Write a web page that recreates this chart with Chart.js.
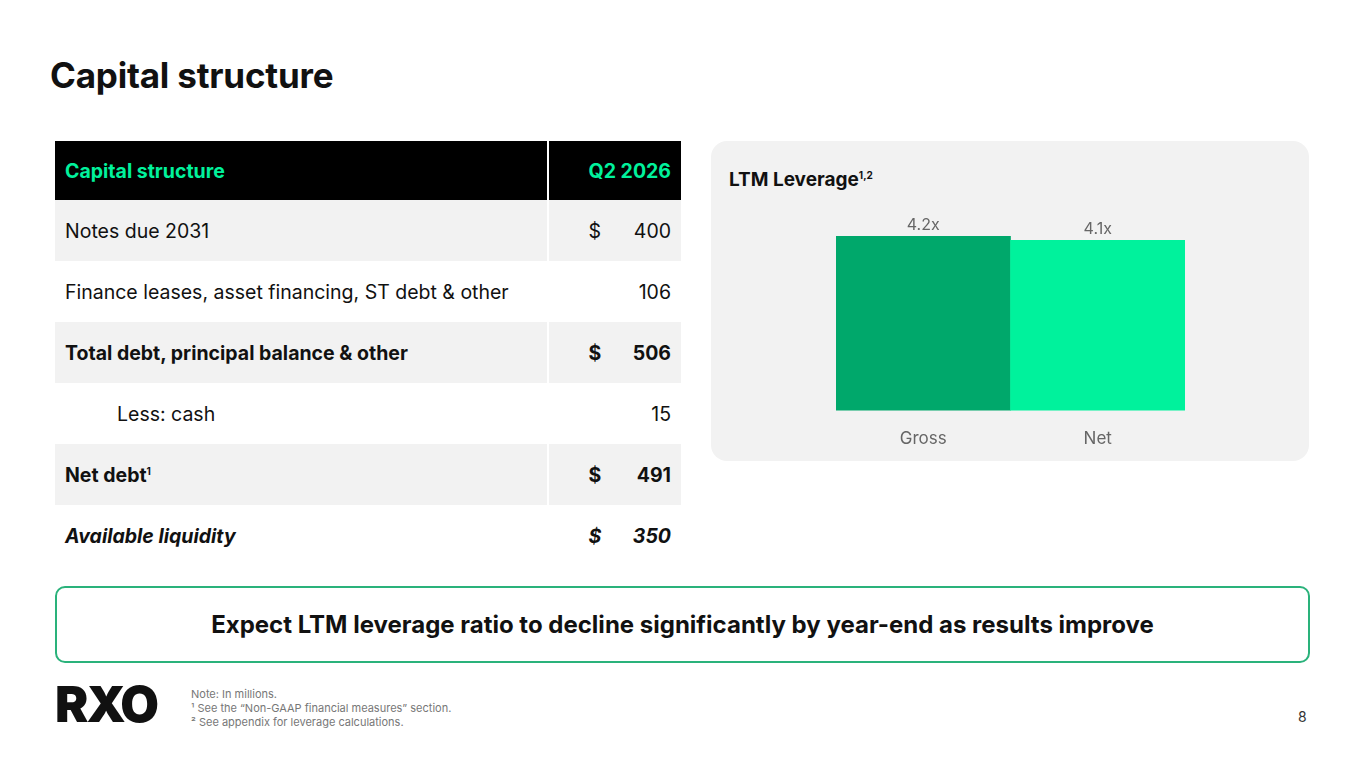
<!DOCTYPE html>
<html><head><meta charset="utf-8">
<script src="https://cdn.jsdelivr.net/npm/chart.js@4"></script>
<style>
body{margin:0;width:1365px;height:768px;background:#fff;font-family:Inter,"Noto Sans",sans-serif;position:relative;overflow:hidden;color:#111}
h1{position:absolute;left:50px;top:54px;margin:0;font-size:35px;font-weight:700;letter-spacing:-0.2px}
table{position:absolute;left:55px;top:141px;width:626px;border-collapse:collapse;font-size:19.5px}
td{height:61px;padding:0 10px;border:0;white-space:nowrap}
td.v{text-align:right;border-left:2px solid #fff;width:78px;padding-left:40px}
tr.h td{background:#000;color:#00f29c;font-weight:700;height:59px}
tr.g td{background:#f2f2f2}
tr.b td{font-weight:700}
tr.i td{font-weight:700;font-style:italic}
.panel{position:absolute;left:711px;top:141px;width:598px;height:320px;background:#f2f2f2;border-radius:16px}
.ptitle{position:absolute;left:729px;top:168px;font-size:19px;font-weight:700}
sup{font-size:10px}
.box{position:absolute;left:55px;top:586px;width:1251px;height:73px;border:2px solid #2ab27b;border-radius:10px;text-align:center;line-height:73px;font-size:24px;font-weight:700}
.logo{position:absolute;left:55px;top:678px;font-size:50px;font-weight:900;letter-spacing:-2px;line-height:52px}
.note{position:absolute;left:191px;top:687px;font-size:11px;color:#777;line-height:14px}
.pg{position:absolute;left:1298px;top:708px;font-size:14px;color:#333}
#cw{position:absolute;left:826px;top:203px;width:369px;height:256px}
</style></head><body>
<h1>Capital structure</h1>
<table>
<tr class="h"><td>Capital structure</td><td class="v">Q2 2026</td></tr>
<tr class="g"><td>Notes due 2031</td><td class="v"><span style="float:left">$</span>400</td></tr>
<tr><td>Finance leases, asset financing, ST debt &amp; other</td><td class="v">106</td></tr>
<tr class="g b"><td>Total debt, principal balance &amp; other</td><td class="v"><span style="float:left">$</span>506</td></tr>
<tr><td style="padding-left:62px">Less: cash</td><td class="v">15</td></tr>
<tr class="g b"><td>Net debt<sup>1</sup></td><td class="v"><span style="float:left">$</span>491</td></tr>
<tr class="i"><td>Available liquidity</td><td class="v"><span style="float:left">$</span>350</td></tr>
</table>
<div class="panel"></div>
<div class="ptitle">LTM Leverage<sup>1,2</sup></div>
<div id="cw"><canvas id="c"></canvas></div>
<div class="box">Expect LTM leverage ratio to decline significantly by year-end as results improve</div>
<div class="logo">RXO</div>
<div class="note">Note: In millions.<br>¹ See the “Non-GAAP financial measures” section.<br>² See appendix for leverage calculations.</div>
<div class="pg">8</div>
<script>
const categories=["Gross","Net"];
const leverage=[4.2,4.1];
const labels=["4.2x","4.1x"];
const barColors=["#00a86b","#00f29c"];
const valPlugin={id:"vals",afterDatasetsDraw(ch){const ctx=ch.ctx;ctx.save();ctx.font="16px Inter";ctx.fillStyle="#666";ctx.textAlign="center";ctx.textBaseline="bottom";
ch.getDatasetMeta(0).data.forEach((b,i)=>ctx.fillText(labels[i],b.x,b.y-3));ctx.restore();}};
new Chart(document.getElementById("c"),{type:"bar",
data:{labels:categories,datasets:[{data:leverage,backgroundColor:barColors,barPercentage:1,categoryPercentage:1}]},
options:{responsive:true,maintainAspectRatio:false,animation:false,
layout:{padding:{left:10,right:10}},
plugins:{legend:{display:false},tooltip:{enabled:false}},
scales:{y:{display:false,min:0,max:5},x:{grid:{display:false},border:{display:false},ticks:{color:"#666",font:{size:17,family:"Inter"},padding:10}}}},
plugins:[valPlugin]});
</script>
</body></html>
